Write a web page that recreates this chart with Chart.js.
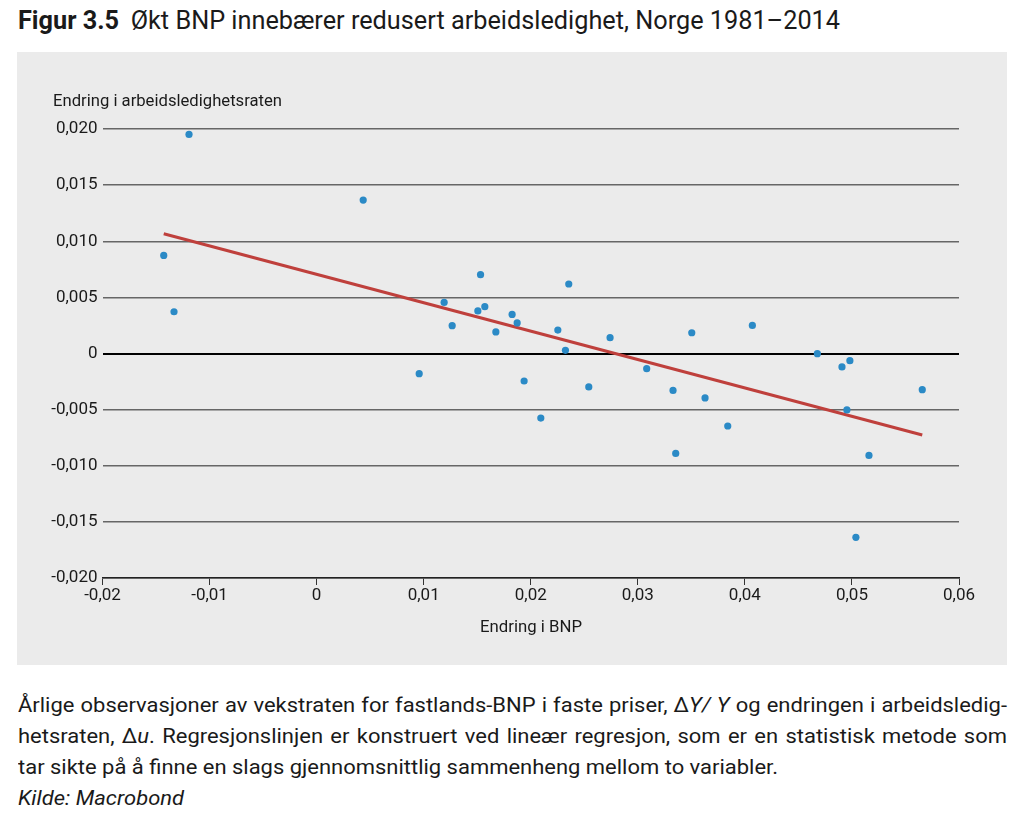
<!DOCTYPE html>
<html lang="no">
<head>
<meta charset="utf-8">
<title>Figur 3.5</title>
<script src="https://cdn.jsdelivr.net/npm/chart.js@4.4.1/dist/chart.umd.min.js"></script>
<style>
  html, body { margin: 0; padding: 0; background: #fff; }
  body { width: 1024px; height: 830px; position: relative; overflow: hidden;
         font-family: Roboto, "Noto Sans", sans-serif; color: #1a1a1a; }
  .fit { position: absolute; white-space: nowrap; transform-origin: left top; }
  #title { left: 18px; top: 5px; font-size: 26px; }
  #title b { margin-right: 12px; }
  #panel { position: absolute; left: 17px; top: 52px; width: 990px; height: 613px; background: #ebebeb; }
  #chart { position: absolute; left: 0; top: 0; }
  #ytitle { left: 53px; top: 91px; font-size: 16px; }
  #xtitle { left: 480px; top: 617px; font-size: 16px; }
  #caption { position: absolute; left: 18px; top: 690px; font-size: 21px; line-height: 31px; transform-origin: left top; }
  #caption div { white-space: nowrap; }
  #caption .j { text-align: justify; text-align-last: justify; }
</style>
</head>
<body>
<div id="title" class="fit"><b>Figur 3.5</b>Økt BNP innebærer redusert arbeidsledighet, Norge 1981–2014</div>
<div id="panel"><canvas id="chart" width="990" height="613"></canvas></div>
<div id="ytitle" class="fit">Endring i arbeidsledighetsraten</div>
<div id="xtitle" class="fit">Endring i BNP</div>
<div id="caption">
  <div class="j">Årlige observasjoner av vekstraten for fastlands-BNP i faste priser, ∆<i>Y/ Y</i> og endringen i arbeidsledig-</div>
  <div class="j">hetsraten, ∆<i>u</i>. Regresjonslinjen er konstruert ved lineær regresjon, som er en statistisk metode som</div>
  <div id="cap3">tar sikte på å finne en slags gjennomsnittlig sammenheng mellom to variabler.</div>
  <div><i>Kilde: Macrobond</i></div>
</div>
<script>
// årlige observasjoner (sortert etter BNP-endring)
const bnpChange = [
  -0.01428, -0.01332, -0.01192, 0.00435, 0.00958, 0.01191, 0.01266, 0.01506, 0.01531, 0.01571,
  0.01674, 0.01826, 0.01873, 0.01938, 0.02094, 0.02253, 0.02324, 0.02355, 0.02542, 0.02741,
  0.03083, 0.03329, 0.03354, 0.03504, 0.03628, 0.0384, 0.0407, 0.04677, 0.04907, 0.04981,
  0.04953, 0.05037, 0.05159, 0.05657
];
const ledighetChange = [
  0.00874, 0.00372, 0.01952, 0.01367, -0.0018, 0.00455, 0.00248, 0.00379, 0.00702, 0.00417,
  0.00192, 0.00348, 0.00272, -0.00245, -0.00575, 0.00209, 0.00028, 0.00619, -0.00298, 0.00141,
  -0.00135, -0.00329, -0.0089, 0.00185, -0.00396, -0.00646, 0.0025, -0.00002, -0.0012, -0.00064,
  -0.00503, -0.01638, -0.00908, -0.00322
];
// regresjonslinje, endepunkter
const lineX = [-0.01428, 0.05657];
const lineY = [0.01067, -0.00726];

const xTicks = [-0.02, -0.01, 0, 0.01, 0.02, 0.03, 0.04, 0.05, 0.06];
const xTickLabels = ['-0,02', '-0,01', '0', '0,01', '0,02', '0,03', '0,04', '0,05', '0,06'];
const yTicks = [-0.02, -0.015, -0.01, -0.005, 0, 0.005, 0.01, 0.015, 0.02];
const yTickLabels = ['-0,020', '-0,015', '-0,010', '-0,005', '0', '0,005', '0,010', '0,015', '0,020'];

const fontFamily = 'Roboto, "Noto Sans", sans-serif';

const ctx = document.getElementById('chart').getContext('2d');
new Chart(ctx, {
  type: 'scatter',
  data: {
    datasets: [
      {
        label: 'Observasjoner',
        data: bnpChange.map((x, i) => ({ x, y: ledighetChange[i] })),
        backgroundColor: '#2b8ac6',
        borderWidth: 0,
        pointRadius: 3.6,
        order: 0
      },
      {
        type: 'line',
        label: 'Regresjonslinje',
        data: lineX.map((x, i) => ({ x, y: lineY[i] })),
        borderColor: '#bf403c',
        borderWidth: 3,
        pointRadius: 0,
        fill: false,
        order: 1
      }
    ]
  },
  options: {
    responsive: false,
    animation: false,
    layout: { padding: { top: 77, right: 48, left: 0, bottom: 0 } },
    plugins: { legend: { display: false }, tooltip: { enabled: false } },
    scales: {
      x: {
        type: 'linear',
        min: -0.02,
        max: 0.06,
        afterBuildTicks: s => { s.ticks = xTicks.map(v => ({ value: v })); },
        afterFit: s => { s.height = 87; },
        ticks: {
          callback: (v, i) => xTickLabels[i],
          color: '#1a1a1a',
          font: { size: 17, family: fontFamily },
          padding: 1,
          maxRotation: 0,
          autoSkip: false
        },
        grid: { drawOnChartArea: false, drawTicks: true, tickLength: 7, color: '#333', lineWidth: 1 },
        border: { display: true, color: '#222', width: 1.5 }
      },
      y: {
        type: 'linear',
        min: -0.02,
        max: 0.02,
        afterBuildTicks: s => { s.ticks = yTicks.map(v => ({ value: v })); },
        afterFit: s => { s.width = 85.5; },
        ticks: {
          callback: (v, i) => yTickLabels[i],
          color: '#1a1a1a',
          font: { size: 17, family: fontFamily },
          padding: 5
        },
        grid: {
          drawTicks: false,
          color: c => c.tick && c.tick.value === 0 ? '#000' : '#666',
          lineWidth: c => c.tick && c.tick.value === 0 ? 2 : 1.4
        },
        border: { display: false }
      }
    }
  }
});

// tilpass tekstbredder til referansen
function fit(el, w) {
  const r = el.getBoundingClientRect().width;
  el.style.transform = 'scaleX(' + (w / r) + ')';
}
fit(document.getElementById('title'), 822);
fit(document.getElementById('ytitle'), 229);
fit(document.getElementById('xtitle'), 102);

const cap = document.getElementById('caption');
const cap3 = document.getElementById('cap3');
cap3.style.display = 'inline-block';
const f = 760 / cap3.getBoundingClientRect().width;
cap3.style.display = 'block';
cap.style.width = (989 / f) + 'px';
cap.style.transform = 'scaleX(' + f + ')';
</script>
</body>
</html>
